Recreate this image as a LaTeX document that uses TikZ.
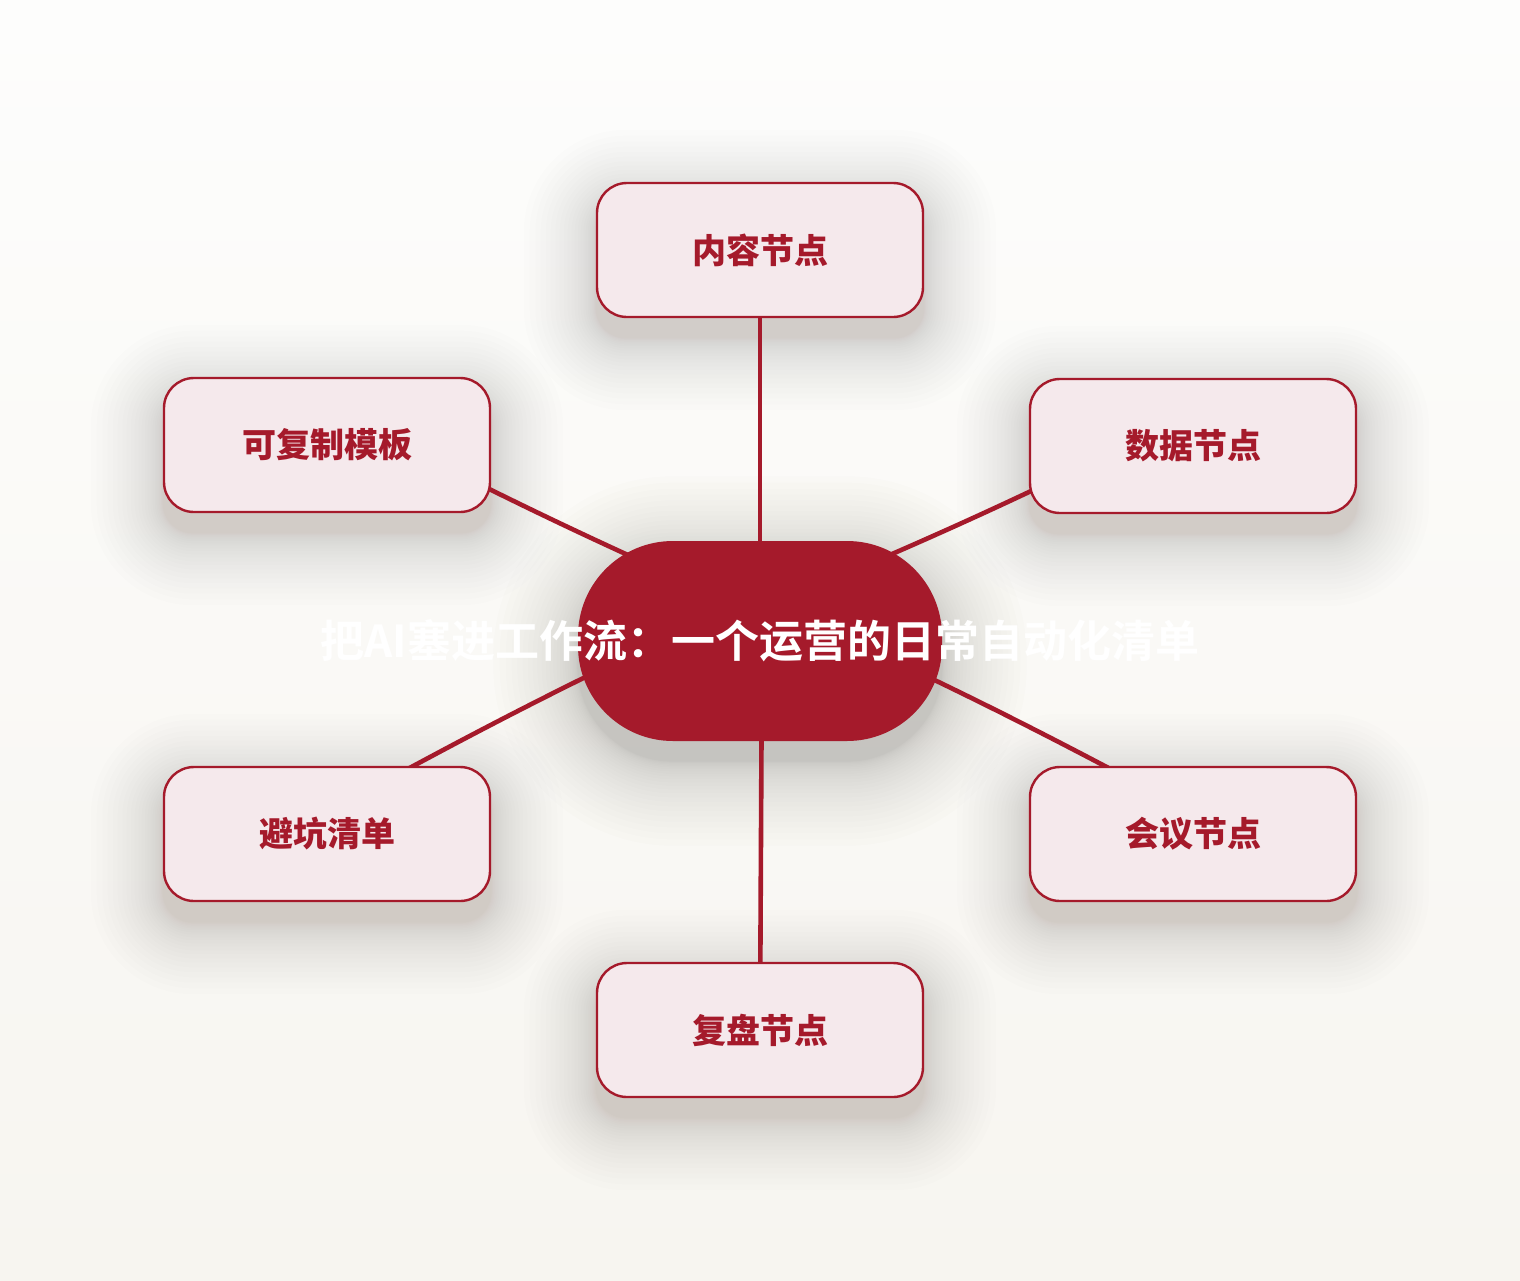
\documentclass[tikz,border=0pt]{standalone}
\usepackage{fontspec}
\setmainfont{Noto Sans CJK SC}
\newfontfamily\cjkb{Noto Sans CJK SC Bold}
\newfontfamily\cjkh{Noto Sans CJK SC Black}
\usetikzlibrary{backgrounds}
\definecolor{bgtop}{HTML}{FDFDFC}
\definecolor{bgbot}{HTML}{F7F5F0}
\definecolor{deepred}{HTML}{A51A2B}
\definecolor{cardfill}{HTML}{F5E9EC}
\definecolor{shadowc}{HTML}{5A5048}
\tikzset{
  card/.style={draw=deepred, line width=2.4pt, fill=cardfill, rounded corners=30pt,
    minimum width=326pt, minimum height=134pt, inner sep=0pt,
    text=deepred, font=\cjkh\fontsize{34}{40}\selectfont},
  hub/.style={fill=deepred, rounded corners=95pt, minimum width=364pt, minimum height=200pt,
    inner sep=0pt, text=white, font=\cjkb\fontsize{44}{52}\selectfont},
  link/.style={draw=deepred, line width=4.6pt, line cap=round},
  softlayer/.style={fill=shadowc, opacity=0.008}
}
\begin{document}
\begin{tikzpicture}[x=1pt,y=-1pt]
  \useasboundingbox (0,0) rectangle (1520,1280);
  \node[hub] (c) at (760,641) {\makebox[0pt]{把AI塞进工作流：一个运营的日常自动化清单}};
  \node[card] (t)  at (760,250)  {内容节点};
  \node[card] (tl) at (327,445)  {可复制模板};
  \node[card] (tr) at (1193,446) {数据节点};
  \node[card] (bl) at (327,834)  {避坑清单};
  \node[card] (br) at (1193,834) {会议节点};
  \node[card] (b)  at (760,1030) {复盘节点};
  \begin{scope}[on background layer]
    \shade[top color=bgtop, bottom color=bgbot] (0,0) rectangle (1520,1280);
    \foreach \n in {t,tl,tr,bl,br,b}{
      \foreach \s in {1,...,24}{
        \pgfmathsetmacro\k{\s*\s/8}
        \pgfmathsetmacro\rr{30+\k}
        \fill[softlayer, rounded corners=\rr pt]
          ([shift={(-\k,-\k+20)}]\n.north west) rectangle ([shift={(\k,\k+20)}]\n.south east);
      }
    }
    \foreach \s in {1,...,26}{
      \pgfmathsetmacro\k{\s*\s/8}
      \pgfmathsetmacro\rr{95+\k}
      \fill[softlayer, opacity=0.01, rounded corners=\rr pt]
        ([shift={(-\k,-\k+20)}]c.north west) rectangle ([shift={(\k,\k+20)}]c.south east);
    }
    \draw[link] (c.center) -- (t.center);
    \draw[link] ([shift={(0,-27)}]c.center) to[bend left=2] ([shift={(0,-39)}]tl.center);
    \draw[link] ([shift={(0,-31)}]c.center) to[bend right=2] ([shift={(0,-34)}]tr.center);
    \draw[link] ([shift={(0,-47)}]c.center) to[bend right=2] ([shift={(0,-21)}]bl.center);
    \draw[link] ([shift={(0,-42)}]c.center) to[bend left=2] ([shift={(0,-21)}]br.center);
    \draw[link] ([shift={(2,0)}]c.center) -- (b.center);
  \end{scope}
\end{tikzpicture}
\end{document}
